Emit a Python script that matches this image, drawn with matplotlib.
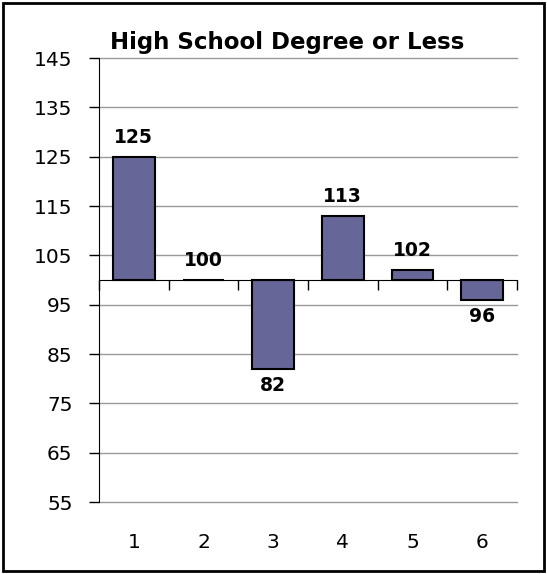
import matplotlib
matplotlib.use("Agg")
import matplotlib.pyplot as plt
from matplotlib.patches import Rectangle
import numpy as np

categories = ["1", "2", "3", "4", "5", "6"]
values = [125, 100, 82, 113, 102, 96]
baseline = 100
y_ticks = [55, 65, 75, 85, 95, 105, 115, 125, 135, 145]
title = "High School Degree or Less"

plt.rcParams["font.family"] = ["DejaVu Sans"]

fig = plt.figure(figsize=(5.47, 5.74), dpi=100)
W, H = 547, 574
ax = fig.add_axes([99 / W, 1 - 502 / H, (517 - 99) / W, (502 - 58) / H])

x = np.arange(1, len(values) + 1)
heights = [v - baseline for v in values]
ax.bar(x, heights, bottom=baseline, width=0.6, color="#666699",
       edgecolor="black", linewidth=1.5, zorder=3)

for xi, v in zip(x, values):
    if v >= baseline:
        ax.annotate(str(v), (xi, v), xytext=(0, 7), textcoords="offset points",
                    ha="center", va="bottom", fontsize=13.5, fontweight="bold")
    else:
        ax.annotate(str(v), (xi, v), xytext=(0, -5), textcoords="offset points",
                    ha="center", va="top", fontsize=13.5, fontweight="bold")

ax.set_ylim(55, 145)
ax.set_xlim(0.5, len(values) + 0.5)
ax.set_yticks(y_ticks)
ax.tick_params(axis="y", labelsize=14.5, length=7, width=1, pad=12, color="black")
ax.yaxis.grid(True, color="#999999", linewidth=1, zorder=0)
for gl in ax.yaxis.get_gridlines():
    gl.set_clip_on(False)
ax.set_axisbelow(True)

# Category axis crosses at the baseline, with ticks between categories
ax.spines["bottom"].set_position(("data", baseline))
ax.spines["bottom"].set_zorder(4)
ax.spines["top"].set_visible(False)
ax.spines["right"].set_visible(False)
ax.set_xticks(np.arange(0.5, len(values) + 1, 1.0))
ax.set_xticklabels([])
ax.tick_params(axis="x", direction="out", length=7, width=1)

# Category labels along the bottom
sec = ax.secondary_xaxis("bottom")
sec.set_xticks(x)
sec.set_xticklabels(categories)
sec.tick_params(length=0, labelsize=14.5, pad=22)
sec.spines["bottom"].set_visible(False)

fig.text(287 / W, 1 - 42 / H, title, ha="center", va="center",
         fontsize=16.5, fontweight="bold")

fig.patches.append(Rectangle((3 / W, 3 / H), 1 - 6 / W, 1 - 6 / H,
                             transform=fig.transFigure, fill=False,
                             edgecolor="black", linewidth=2))

fig.savefig("out.png", dpi=100)
